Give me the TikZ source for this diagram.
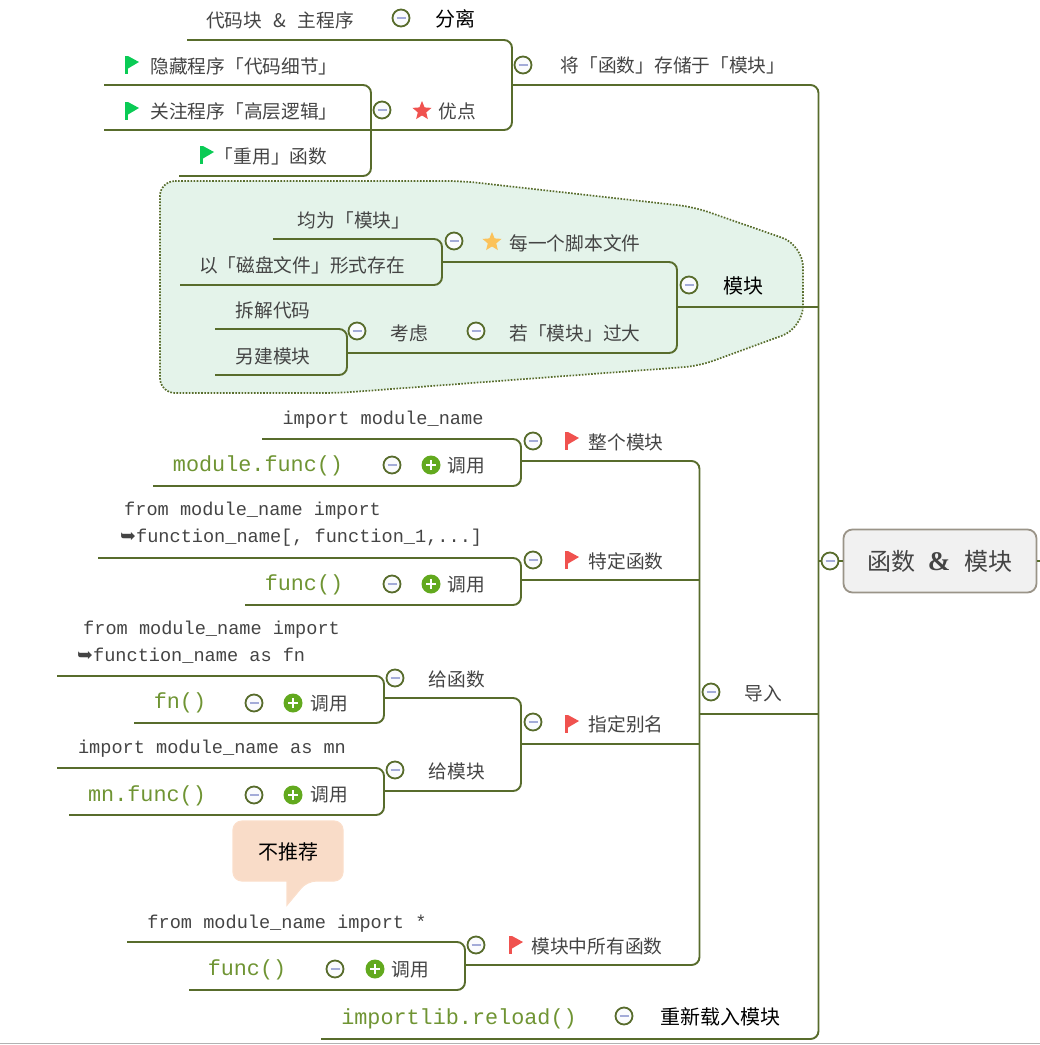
\documentclass[tikz,border=0pt]{standalone}
\usepackage{fontspec}
\usetikzlibrary{shapes.geometric}
\setmainfont{Noto Sans CJK SC}
\newfontfamily\monof{Liberation Mono}
\newfontfamily\symf{DejaVu Sans}
\newfontfamily\serf{Liberation Serif}
\definecolor{linkc}{HTML}{586C2C}
\definecolor{txtc}{HTML}{444444}
\definecolor{codec}{HTML}{6F9433}
\definecolor{barc}{HTML}{A3ABD8}
\definecolor{plusc}{HTML}{62A91E}
\definecolor{flagg}{HTML}{0ACB55}
\definecolor{flagr}{HTML}{F0524F}
\definecolor{stary}{HTML}{FBC25A}
\definecolor{blobf}{HTML}{E4F3EA}
\definecolor{calf}{HTML}{F9DCC8}
\definecolor{cald}{HTML}{FBDFCB}
\definecolor{rootd}{HTML}{9A9488}
\definecolor{rootf}{HTML}{F1F1F1}
\tikzset{
  link/.style={draw=linkc,line width=1.9pt,rounded corners=8pt},
  txt/.style={inner sep=0pt,text=txtc,font=\fontsize{18.7}{22}\selectfont},
  blk/.style={inner sep=0pt,text=black,font=\fontsize{20}{24}\selectfont},
  mono/.style={inner sep=0pt,text=txtc,align=left,font=\monof\fontsize{18.6}{27}\selectfont},
  codet/.style={inner sep=0pt,text=codec,font=\monof\fontsize{21.8}{26}\selectfont},
  minusc/.style={circle,draw=linkc,line width=1.8pt,fill=white!95!barc,minimum size=17pt,inner sep=0pt},
  minusbar/.style={draw=barc,line width=1.8pt},
  plusi/.style={circle,fill=plusc,minimum size=19pt,inner sep=0pt,
    path picture={\draw[draw=white,line width=1.5pt] ([xshift=-5pt]path picture bounding box.center) -- ([xshift=5pt]path picture bounding box.center) ([yshift=-5pt]path picture bounding box.center) -- ([yshift=5pt]path picture bounding box.center);}},
  stari/.style={star,star points=5,star point ratio=2.25,fill=#1,minimum size=20pt,inner sep=0pt},
  pics/flagi/.style={code={\fill[#1] (-7,-9) rectangle (-4,9); \fill[#1] (-4,-9) -- (7,-3) -- (-4,3.5) -- cycle;}}
}
\newcommand{\arrowg}{{\symf\fontsize{19}{27}\selectfont ➥}}
\begin{document}
\begin{tikzpicture}[x=1pt,y=-1pt]
\useasboundingbox (0,0) rectangle (1040,1045);
% region
\path[fill=blobf,draw=linkc,line width=1.7pt,dash pattern=on 1.6pt off 1.5pt,rounded corners=15pt]
  (160,181) -- (462,181) -- (694,207) [rounded corners=22pt] -- (803,245) -- (803,328) [rounded corners=15pt] -- (699,366) -- (338,393) -- (160,393) -- cycle;
\draw[gray!60,line width=0.8pt] (0,1043.5) -- (1040,1043.5);
% root
\node[draw=rootd,fill=rootf,line width=1.8pt,rounded corners=9pt,minimum width=193pt,minimum height=63pt,inner sep=0pt,text=txtc,font=\fontsize{24}{28}\selectfont] (root) at (940,561) {函数\hspace{12pt}{\serf\bfseries\fontsize{27}{28}\selectfont\&}\hspace{14pt}模块};
% junctions
\coordinate (vm) at (818.5,561);
\coordinate (rootout) at (1040,561);
\coordinate (v1) at (512,85);
\coordinate (v2) at (371,130);
\coordinate (a1) at (187,40);
\coordinate (a2) at (104,130);
\coordinate (a3) at (104,85);
\coordinate (a4) at (179,176);
\coordinate (v3) at (677,307);
\coordinate (v4) at (442,262);
\coordinate (v5) at (347,353);
\coordinate (b1) at (273,239);
\coordinate (b2) at (180,285);
\coordinate (b3) at (215,329);
\coordinate (b4) at (215,375);
\coordinate (v6) at (699.5,714);
\coordinate (v7) at (521,461);
\coordinate (v8) at (521,580);
\coordinate (v9) at (521,744);
\coordinate (v10) at (465,965);
\coordinate (v11) at (384,698);
\coordinate (v12) at (384,791);
\coordinate (c1) at (262,439);
\coordinate (c2) at (153,486);
\coordinate (c3) at (98,558);
\coordinate (c4) at (245,605);
\coordinate (c5) at (57,676);
\coordinate (c6) at (134,723);
\coordinate (c7) at (57,768);
\coordinate (c8) at (69,815);
\coordinate (c9) at (127,942);
\coordinate (c10) at (189,990);
\coordinate (d1) at (321,1039);
% connectors
\draw[link] (v1) -| (vm) |- (d1);
\draw[link] (vm) -- (root.west);
\draw[link] (root.east) -- (rootout);
\draw[link] (a1) -| (v1) |- (a2);
\draw[link] (a3) -| (v2) |- (a4);
\draw[link] (v3) -- (v3 -| vm);
\draw[link] (v4) -| (v3) |- (v5);
\draw[link] (b1) -| (v4) |- (b2);
\draw[link] (b3) -| (v5) |- (b4);
\draw[link] (v6) -- (v6 -| vm);
\draw[link] (v7) -| (v6) |- (v10);
\draw[link] (v8) -- (v8 -| v6);
\draw[link] (v9) -- (v9 -| v6);
\draw[link] (c1) -| (v7) |- (c2);
\draw[link] (c3) -| (v8) |- (c4);
\draw[link] (v11) -| (v9) |- (v12);
\draw[link] (c5) -| (v11) |- (c6);
\draw[link] (c7) -| (v12) |- (c8);
\draw[link] (c9) -| (v10) |- (c10);
% collapse circles
\foreach \n/\x/\y in {m0/830/561,m1/523/65,m2/401/18,m3/382/110,m4/689/285,m5/454/241,m6/476/331,m7/357/331,m8/711/692,m9/533/441,m10/392/465,m11/533/560,m12/392/584,m13/533/722,m14/395/678,m15/254/703,m16/395/770,m17/254/795,m18/476/945,m19/335/969,m20/624/1016}
  {\node[minusc] (\n) at (\x,\y) {};
   \draw[minusbar] ([xshift=-4.5pt]\n.center) -- ([xshift=4.5pt]\n.center);}
\foreach \n/\x/\y in {p1/431/465,p2/431/584,p3/293/703,p4/293/795,p5/375/969}
  \node[plusi] (\n) at (\x,\y) {};
% flags
\pic at (132,65) {flagi=flagg};
\pic at (132,111) {flagi=flagg};
\pic at (207,155) {flagi=flagg};
\pic at (572,441) {flagi=flagr};
\pic at (572,560) {flagi=flagr};
\pic at (572,724) {flagi=flagr};
\pic at (516,945) {flagi=flagr};
\node[stari=flagr] (s1) at (422,111) {};
\node[stari=stary] (s2) at (492,242) {};
% top branch texts
\node[txt] (t1) at (673,65) {将「函数」存储于「模块」};
\node[txt] (t2) at (280,20) {代码块\hspace{11pt}\&\hspace{12pt}主程序};
\node[blk] (t3) at (455,19) {分离};
\node[txt] (t4) at (457,111) {优点};
\node[txt] (t5) at (244,66) {隐藏程序「代码细节」};
\node[txt] (t6) at (244,111) {关注程序「高层逻辑」};
\node[txt] (t7) at (271,156) {「重用」函数};
% module region
\node[blk] (t8) at (743,286) {模块};
\node[txt] (t9) at (575,243) {每一个脚本文件};
\node[txt] (t10) at (354,220) {均为「模块」};
\node[txt] (t11) at (302,265) {以「磁盘文件」形式存在};
\node[txt] (t12) at (575,333) {若「模块」过大};
\node[txt] (t13) at (409,333) {考虑};
\node[txt] (t14) at (273,310) {拆解代码};
\node[txt] (t15) at (273,356) {另建模块};
% import
\node[txt] (t16) at (763,694) {导入};
\node[txt] (t17) at (626,442) {整个模块};
\node[mono] (t18) at (383,419.5) {import module\_name};
\node[codet] (t19) at (258,465.5) {module.func()};
\node[txt] (t20) at (466,466) {调用};
\node[txt] (t21) at (626,561) {特定函数};
\node[mono,anchor=west] (t22) at (120,524) {\hspace*{4pt}from module\_name import\\\arrowg function\_name[, function\_1,...]};
\node[codet] (t23) at (304,584.5) {func()};
\node[txt] (t24) at (466,585) {调用};
\node[txt] (t25) at (626,724) {指定别名};
\node[txt] (t26) at (457,679) {给函数};
\node[mono,anchor=west] (t27) at (77,642) {\hspace*{6pt}from module\_name import\\\arrowg function\_name as fn};
\node[codet] (t28) at (180,702.5) {fn()};
\node[txt] (t29) at (329,704) {调用};
\node[txt] (t30) at (457,771) {给模块};
\node[mono] (t31) at (212,748.5) {import module\_name as mn};
\node[codet] (t32) at (147,795.5) {mn.func()};
\node[txt] (t33) at (329,795) {调用};
\node[txt] (t34) at (597,946) {模块中所有函数};
\node[mono] (t35) at (287,923.5) {from module\_name import *};
\node[codet] (t36) at (247,969.5) {func()};
\node[txt] (t37) at (410,970) {调用};
\node[codet] (t38) at (459,1018.5) {importlib.reload()};
\node[blk] (t39) at (720,1017) {重新载入模块};
% callout
\path[fill=calf,draw=cald,line width=1.2pt,rounded corners=9pt]
  (233,821) -- (343,821) -- (343,881) -- (307,881) [sharp corners] -- (287,905) -- (287,881) [rounded corners=9pt] -- (233,881) -- cycle;
\node[blk] (t40) at (288,852) {不推荐};
\end{tikzpicture}
\end{document}
